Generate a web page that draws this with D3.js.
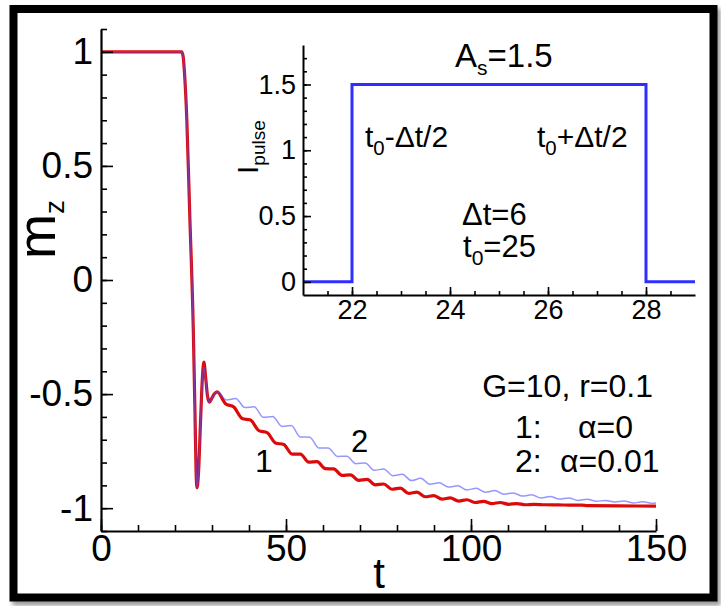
<!DOCTYPE html>
<html><head><meta charset="utf-8">
<script src="https://cdn.jsdelivr.net/npm/d3@7"></script>
<style>
body{margin:0;background:#fff}
svg{display:block}
text{font-family:"Liberation Sans",Arial,Helvetica,sans-serif;fill:#000}
</style>
</head><body>
<svg id="c" width="721" height="606"></svg>
<script>
// ---------------- data ----------------
const tRed = [0, 21.8, 22.2, 22.6, 23.2, 24.0, 24.95, 25.4, 25.7, 25.95, 26.3, 26.9, 27.4, 27.8, 28.3, 28.8, 29.3, 29.9, 30.6, 31.4,
  33.65, 35.9, 38.15, 40.4, 42.65, 44.9, 47.15, 49.4, 51.65, 53.9, 56.15, 58.4, 60.65, 62.9, 65.15, 67.4, 69.65, 71.9, 74.15,
  76.4, 78.65, 80.9, 83.15, 85.4, 87.65, 89.9, 92.15, 94.4, 96.65, 98.9, 101.15, 103.4, 105.65, 107.9, 110.15,
  112.4, 114.65, 117, 120, 125, 130, 131.5, 140, 150];
const mzRed = [1, 1, 0.98, 0.90, 0.70, 0.28, -0.22, -0.58, -0.84, -0.91, -0.86, -0.62, -0.43, -0.36, -0.43, -0.51, -0.535, -0.52, -0.50, -0.49,
  -0.542, -0.557, -0.607, -0.614, -0.660, -0.669, -0.714, -0.721, -0.763, -0.763, -0.798, -0.796, -0.827, -0.828, -0.856, -0.854, -0.878, -0.874, -0.898,
  -0.894, -0.917, -0.912, -0.935, -0.930, -0.950, -0.945, -0.960, -0.955, -0.969, -0.963, -0.975, -0.970, -0.980, -0.975, -0.983,
  -0.980, -0.985, -0.983, -0.985, -0.986, -0.987, -0.989, -0.990, -0.991];

const tBlue = [0, 21.8, 22.2, 22.6, 23.2, 24.0, 24.95, 25.4, 25.7, 25.95, 26.3, 26.9, 27.4, 27.8, 28.3, 28.8, 29.3, 29.9, 30.6, 31.4,
  33.9, 36.4, 38.9, 41.4, 43.9, 46.4, 48.9, 51.4, 53.9, 56.4, 58.9, 61.4, 63.9, 66.4, 68.9, 71.4, 73.9, 76.4, 78.9, 81.4,
  83.9, 86.4, 88.9, 91.4, 93.9, 96.4, 98.9, 101.4, 103.9, 106.4, 108.9, 111.4, 113.9, 116.4, 118.9, 121.4, 123.9, 126.4,
  128.9, 131.4, 133.9, 136.4, 138.9, 141.4, 143.9, 146.4, 148.9, 150];
const mzBlue = [1, 1, 0.98, 0.90, 0.70, 0.28, -0.22, -0.58, -0.84, -0.91, -0.86, -0.62, -0.44, -0.38, -0.44, -0.51, -0.535, -0.52, -0.50, -0.49,
  -0.526, -0.519, -0.559, -0.556, -0.602, -0.598, -0.642, -0.638, -0.688, -0.689, -0.736, -0.736, -0.773, -0.772, -0.805, -0.802, -0.834, -0.828, -0.858, -0.851,
  -0.879, -0.869, -0.895, -0.888, -0.907, -0.902, -0.920, -0.913, -0.930, -0.923, -0.939, -0.933, -0.947, -0.941, -0.955, -0.949, -0.960, -0.955,
  -0.966, -0.961, -0.970, -0.966, -0.973, -0.969, -0.977, -0.972, -0.979, -0.977];

const tPulse = [21, 22, 22, 28, 28, 29];
const iPulse = [0, 0, 1.5, 1.5, 0, 0];

const xTicks = [0, 50, 100, 150];
const xLabels = ["0", "50", "100", "150"];
const yTicks = [-1, -0.5, 0, 0.5, 1];
const yLabels = ["-1", "-0.5", "0", "0.5", "1"];
const insetXTicks = [22, 24, 26, 28];
const insetYTicks = [0, 0.5, 1, 1.5];
const insetYLabels = ["0", "0.5", "1", "1.5"];

// ---------------- drawing ----------------
const svg = d3.select("#c");
const defs = svg.append("defs");
const f = defs.append("filter").attr("id", "sh").attr("x", "-5%").attr("y", "-5%").attr("width", "110%").attr("height", "110%");
f.append("feGaussianBlur").attr("stdDeviation", 2);

// frame shadow + frame
svg.append("rect").attr("x", 16).attr("y", 12).attr("width", 701).attr("height", 590)
  .attr("fill", "none").attr("stroke", "#999").attr("stroke-width", 7).attr("filter", "url(#sh)");
svg.append("rect").attr("x", 13.5).attr("y", 9).attr("width", 700).attr("height", 588.5)
  .attr("fill", "#fff").attr("stroke", "#000").attr("stroke-width", 8);

const x = d3.scaleLinear().domain([0, 150]).range([101, 656]);
const y = d3.scaleLinear().domain([-1.1, 1.1]).range([531, 29]);

function styleAxis(g, w) {
  g.selectAll(".domain").attr("stroke", "#000").attr("stroke-width", w);
  g.selectAll(".tick line").attr("stroke", "#000").attr("stroke-width", 1.6);
}

// main axes: minor ticks
const gxm = svg.append("g").attr("transform", "translate(0,531)")
  .call(d3.axisBottom(x).tickValues(d3.range(0, 151, 10)).tickSize(-6).tickFormat(""));
gxm.select(".domain").remove(); styleAxis(gxm, 2);
const gym = svg.append("g").attr("transform", "translate(101,0)")
  .call(d3.axisLeft(y).tickValues(d3.range(-11, 12, 1).map(v => v / 10)).tickSize(-6).tickFormat(""));
gym.select(".domain").remove(); styleAxis(gym, 2);

// curves
const line = d3.line().x(d => x(d[0])).y(d => y(d[1])).curve(d3.curveMonotoneX);
svg.append("path").datum(tRed.map((t, i) => [t, mzRed[i]]))
  .attr("d", line).attr("fill", "none").attr("stroke", "#dd0a0a").attr("stroke-width", 3.2).attr("stroke-linejoin", "round");
svg.append("path").datum(tBlue.map((t, i) => [t, mzBlue[i]]))
  .attr("d", line).attr("fill", "none").attr("stroke", "#5050ff").attr("stroke-opacity", 0.6).attr("stroke-width", 1.5).attr("stroke-linejoin", "round");

// main axes: major ticks + labels
const gx = svg.append("g").attr("transform", "translate(0,531)")
  .call(d3.axisBottom(x).tickValues(xTicks).tickSize(-12).tickSizeOuter(0).tickPadding(4).tickFormat((d, i) => xLabels[i]));
styleAxis(gx, 2.2);
gx.selectAll("text").attr("font-size", 37).attr("fill", "#000");
const gy = svg.append("g").attr("transform", "translate(101,0)")
  .call(d3.axisLeft(y).tickValues(yTicks).tickSize(-12).tickSizeOuter(0).tickPadding(8).tickFormat((d, i) => yLabels[i]));
styleAxis(gy, 2.2);
gy.selectAll("text").attr("font-size", 37).attr("fill", "#000");

// axis titles
svg.append("text").attr("x", 379).attr("y", 588).attr("text-anchor", "middle").attr("font-size", 42).text("t");
const my = svg.append("text").attr("transform", "translate(55,259) rotate(-90)").attr("font-size", 54);
my.append("tspan").text("m");
my.append("tspan").attr("font-size", 28).attr("dy", 9).text("z");

// ---------------- inset ----------------
const xi = d3.scaleLinear().domain([21, 29]).range([303, 695]);
const yi = d3.scaleLinear().domain([-0.1, 1.8]).range([295, 45]);

const gxim = svg.append("g").attr("transform", "translate(0,295)")
  .call(d3.axisBottom(xi).tickValues(d3.range(21.5, 29, 0.5)).tickSize(-4).tickFormat(""));
gxim.select(".domain").remove(); styleAxis(gxim, 2);
const gyim = svg.append("g").attr("transform", "translate(303,0)")
  .call(d3.axisLeft(yi).tickValues(d3.range(0, 18, 1).map(v => v / 10)).tickSize(-4).tickFormat(""));
gyim.select(".domain").remove(); styleAxis(gyim, 2);

const pulseLine = d3.line().x(d => xi(d[0])).y(d => yi(d[1]));
svg.append("path").datum(tPulse.map((t, i) => [t, iPulse[i]]))
  .attr("d", pulseLine).attr("fill", "none").attr("stroke", "#2e2eff").attr("stroke-width", 3);

const gxi = svg.append("g").attr("transform", "translate(0,295)")
  .call(d3.axisBottom(xi).tickValues(insetXTicks).tickSize(-8).tickSizeOuter(0).tickPadding(5).tickFormat(d3.format("d")));
styleAxis(gxi, 2);
gxi.selectAll("text").attr("font-size", 27).attr("fill", "#000");
const gyi = svg.append("g").attr("transform", "translate(303,0)")
  .call(d3.axisLeft(yi).tickValues(insetYTicks).tickSize(-8).tickSizeOuter(0).tickPadding(7).tickFormat((d, i) => insetYLabels[i]));
styleAxis(gyi, 2);
gyi.selectAll("text").attr("font-size", 27).attr("fill", "#000");

// inset y title
const ip = svg.append("text").attr("transform", "translate(258,174) rotate(-90)").attr("font-size", 30);
ip.append("tspan").text("I");
ip.append("tspan").attr("font-size", 19).attr("dy", 7).text("pulse");

// inset annotations
const as = svg.append("text").attr("x", 455).attr("y", 67).attr("font-size", 33);
as.append("tspan").text("A");
as.append("tspan").attr("font-size", 21).attr("dy", 8).text("s");
as.append("tspan").attr("dy", -8).text("=1.5");

function tSub(xp, yp, rest, fs) {
  const t = svg.append("text").attr("x", xp).attr("y", yp).attr("font-size", fs);
  t.append("tspan").text("t");
  t.append("tspan").attr("font-size", fs * 0.68).attr("dy", 8).text("0");
  t.append("tspan").attr("dy", -8).text(rest);
  return t;
}
tSub(365, 147, "-Δt/2", 30);
tSub(537, 147, "+Δt/2", 30);
svg.append("text").attr("x", 462).attr("y", 225).attr("font-size", 31).text("Δt=6");
tSub(463, 257, "=25", 31);

// main annotations
svg.append("text").attr("x", 653).attr("y", 397).attr("text-anchor", "end").attr("font-size", 32).text("G=10, r=0.1");
svg.append("text").attr("x", 515).attr("y", 438).attr("font-size", 32).text("1:");
svg.append("text").attr("x", 578).attr("y", 438).attr("font-size", 32).text("α=0");
svg.append("text").attr("x", 515).attr("y", 472).attr("font-size", 32).text("2:");
svg.append("text").attr("x", 560).attr("y", 472).attr("font-size", 32).text("α=0.01");
svg.append("text").attr("x", 351).attr("y", 452).attr("font-size", 31).text("2");
svg.append("text").attr("x", 255).attr("y", 472).attr("font-size", 32).text("1");
</script>
</body></html>
